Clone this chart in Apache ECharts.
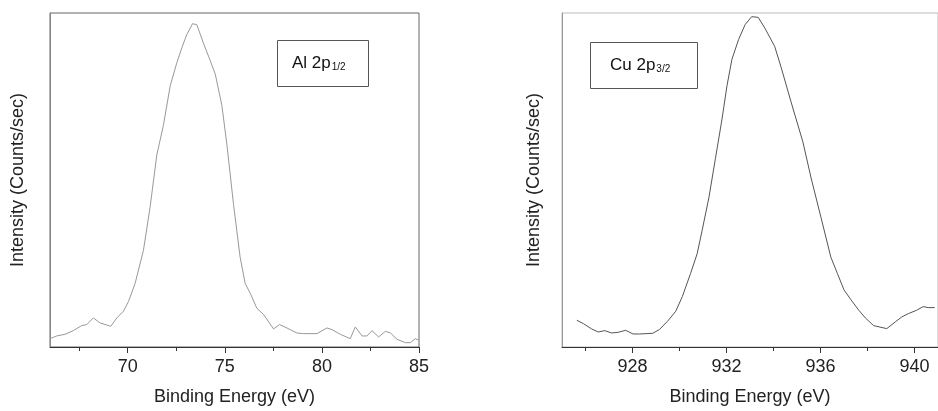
<!DOCTYPE html>
<html>
<head>
<meta charset="utf-8">
<script src="https://cdn.jsdelivr.net/npm/echarts@6/dist/echarts.min.js"></script>
<style>
html,body{margin:0;padding:0;background:#fff;}
#c{width:938px;height:411px;}
</style>
</head>
<body>
<div id="c"></div>
<script>
// ---- Data (intensity in arbitrary units) ----
const alEnergy = [66.0,66.34,66.77,67.2,67.63,67.89,68.23,68.58,69.13,69.44,69.78,70.04,70.38,70.81,71.15,71.5,71.84,72.19,72.53,72.79,73.04,73.34,73.56,73.9,74.16,74.51,74.85,75.11,75.45,75.79,76.05,76.31,76.65,77.0,77.51,77.82,78.2,78.71,79.06,79.75,80.26,80.52,80.95,81.46,81.72,82.07,82.32,82.58,82.92,83.27,83.53,83.87,84.3,84.56,84.81,85.0];
const alIntensity = [2.5,3.3,3.8,4.9,6.4,6.7,8.7,7.2,6.2,8.7,10.7,13.6,19.0,28.9,41.7,57.5,66.4,78.2,85.1,89.6,93.5,96.8,96.5,91.0,87.1,81.7,72.3,60.5,42.7,26.9,19.0,16.1,11.6,9.7,5.4,6.7,5.7,4.2,4.0,4.0,5.7,5.2,3.8,2.5,6.0,3.3,3.3,4.9,3.0,4.7,4.2,2.3,1.3,1.3,2.5,2.0];

const cuEnergy = [925.63,925.91,926.26,926.54,926.82,927.11,927.39,927.71,928.02,928.3,928.86,929.14,929.49,929.84,930.12,930.47,930.75,930.96,931.25,931.53,931.81,932.02,932.23,932.51,932.79,933.07,933.35,933.63,934.05,934.33,934.75,935.25,935.6,936.02,936.44,936.72,937.0,937.28,937.63,937.91,938.26,938.82,939.18,939.46,939.74,940.09,940.37,940.58,940.86];
const cuIntensity = [8.0,7.0,5.4,4.5,4.9,4.2,4.4,5.0,3.9,3.9,4.1,5.2,7.7,10.7,15.1,22.0,27.9,34.8,44.7,56.5,68.3,78.2,86.1,92.0,96.5,98.9,98.7,95.5,90.0,83.6,73.3,61.4,50.6,38.8,26.9,22.0,17.1,14.3,11.0,8.7,6.4,5.5,7.5,9.0,10.0,11.0,12.1,11.8,11.8];

const alMajorTicks = [70, 75, 80, 85];
const alMinorTicks = [67.5, 72.5, 77.5, 82.5];
const cuMajorTicks = [928, 932, 936, 940];
const cuMinorTicks = [926, 930, 934, 938];

const xTitle = 'Binding Energy (eV)';
const yTitle = 'Intensity (Counts/sec)';
const alLabel = ['Al 2p', '1/2'];
const cuLabel = ['Cu 2p', '3/2'];

// ---- Chart ----
const FONT = '"Liberation Sans", Arial, sans-serif';
const chart = echarts.init(document.getElementById('c'), null, {renderer: 'canvas'});

function zip(a, b) { return a.map((v, i) => [v, b[i]]); }

function mainX(grid, min, max, ticks) {
  return {
    type: 'value', gridIndex: grid, min: min, max: max, position: 'bottom',
    name: xTitle, nameLocation: 'middle', nameGap: 41,
    nameTextStyle: {fontFamily: FONT, fontSize: 18, color: '#222'},
    axisLine: {show: true, onZero: false, lineStyle: {color: '#333', width: 1}},
    axisTick: {show: true, inside: false, length: 6, customValues: ticks, lineStyle: {color: '#333'}},
    axisLabel: {show: true, customValues: ticks, margin: 11, fontFamily: FONT, fontSize: 18, color: '#222'},
    splitLine: {show: false}
  };
}
function minorX(grid, min, max, ticks) {
  return {
    type: 'value', gridIndex: grid, min: min, max: max, position: 'bottom',
    axisLine: {show: false},
    axisTick: {show: true, inside: false, length: 4, customValues: ticks, lineStyle: {color: '#333'}},
    axisLabel: {show: false},
    splitLine: {show: false}
  };
}
function yAx(grid, gap, lineColor) {
  return {
    type: 'value', gridIndex: grid, min: 0, max: 100,
    name: yTitle, nameLocation: 'middle', nameGap: gap, nameRotate: 90,
    nameTextStyle: {fontFamily: FONT, fontSize: 18, color: '#222'},
    axisLine: {show: true, onZero: false, lineStyle: {color: lineColor, width: 1}},
    axisTick: {show: false}, axisLabel: {show: false}, splitLine: {show: false}
  };
}
function box(parts, left, top, pad) {
  return {
    text: '{n|' + parts[0] + '}{s|' + parts[1] + '}',
    left: left, top: top, padding: pad,
    borderColor: '#555', borderWidth: 1, backgroundColor: '#fff',
    textStyle: {
      fontWeight: 'normal',
      rich: {
        n: {fontFamily: FONT, fontSize: 17, fontWeight: 'normal', color: '#111', lineHeight: 20, verticalAlign: 'bottom'},
        s: {fontFamily: FONT, fontSize: 10, fontWeight: 'normal', color: '#111', lineHeight: 8, verticalAlign: 'bottom', padding: [0, 0, 0, 1]}
      }
    }
  };
}

chart.setOption({
  animation: false,
  backgroundColor: '#fff',
  grid: [
    {left: 50, right: 519, top: 13, bottom: 60, show: true, borderColor: '#666', borderWidth: 1, backgroundColor: '#fff'},
    {left: 562, right: -4, top: 13, bottom: 60, show: true, borderColor: '#bbb', borderWidth: 1, backgroundColor: '#fff'}
  ],
  title: [
    box(alLabel, 277, 37, [15, 23, 15, 15]),
    box(cuLabel, 590, 39, [15, 27, 15, 20])
  ],
  xAxis: [
    mainX(0, 66, 85, alMajorTicks),
    minorX(0, 66, 85, alMinorTicks),
    mainX(1, 925, 941, cuMajorTicks),
    minorX(1, 925, 941, cuMinorTicks)
  ],
  yAxis: [
    yAx(0, 23, '#888'),
    yAx(1, 19, '#999')
  ],
  series: [
    {type: 'line', xAxisIndex: 0, yAxisIndex: 0, data: zip(alEnergy, alIntensity),
     showSymbol: false, lineStyle: {color: '#999', width: 1}, silent: true},
    {type: 'line', xAxisIndex: 2, yAxisIndex: 1, data: zip(cuEnergy, cuIntensity),
     showSymbol: false, lineStyle: {color: '#555', width: 1}, silent: true}
  ]
});
</script>
</body>
</html>
